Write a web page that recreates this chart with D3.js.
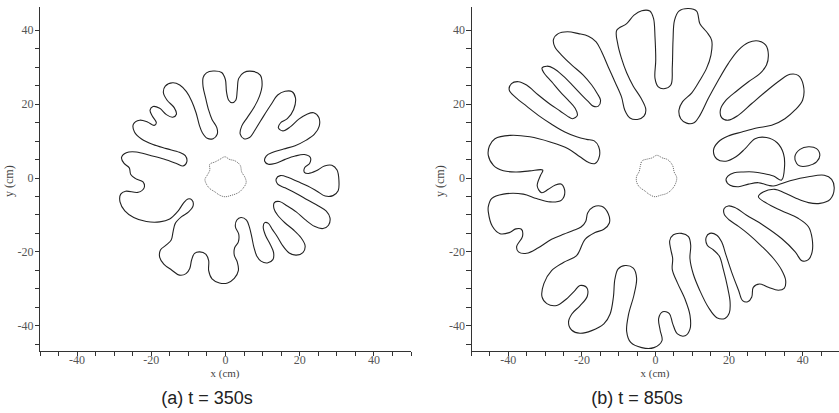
<!DOCTYPE html>
<html>
<head>
<meta charset="utf-8">
<script src="https://cdn.jsdelivr.net/npm/d3@7"></script>
<style>
  body { margin: 0; background: #fff; }
  svg { display: block; }
  .axis path, .axis line { stroke: #333; shape-rendering: crispEdges; }
</style>
</head>
<body>
<div id="chart"></div>
<script>
// Tick values (cm)
const xTicks = [-50, -45, -40, -35, -30, -25, -20, -15, -10, -5, 0, 5, 10, 15, 20, 25, 30, 35, 40, 45, 50];
const yTicks = [-45, -40, -35, -30, -25, -20, -15, -10, -5, 0, 5, 10, 15, 20, 25, 30, 35, 40];
const labelTicks = [-40, -20, 0, 20, 40];

// (a) t = 350s : finger outline, [x, y] in cm
const frontA = [
  [-5.9,27.0],[-5.0,28.3],[-3.2,28.8],[-0.9,28.4],[0.1,26.5],[0.4,23.2],[1.0,20.9],[1.9,20.2],[2.9,20.9],[3.3,23.6],
  [3.7,26.8],[5.1,28.4],[7.5,28.7],[9.5,27.7],[10.0,25.0],[9.3,22.0],[7.8,18.9],[6.0,16.2],[4.5,13.9],[4.1,11.7],
  [5.1,10.5],[6.6,10.8],[8.3,13.2],[10.4,16.6],[12.6,20.0],[14.2,22.3],[16.2,23.3],[18.1,23.2],[19.0,21.5],[18.5,18.4],
  [16.8,15.9],[15.0,14.8],[14.4,13.4],[15.6,12.6],[17.6,13.7],[19.8,15.7],[22.1,17.1],[23.9,17.5],[25.3,16.2],[25.4,13.9],
  [24.1,11.7],[21.9,10.1],[18.9,8.6],[15.8,7.7],[12.9,6.8],[11.1,5.8],[10.7,4.4],[11.7,3.6],[13.5,3.8],[16.2,4.9],
  [18.9,5.8],[21.4,6.2],[23.0,5.4],[22.8,3.8],[21.5,2.7],[21.4,1.4],[22.5,1.1],[24.6,1.8],[26.8,3.1],[28.8,3.3],
  [30.2,2.0],[30.7,-0.7],[30.5,-3.6],[29.1,-4.9],[27.0,-5.0],[24.8,-3.7],[22.3,-2.3],[19.6,-1.1],[17.1,0.0],[14.9,0.5],
  [13.8,-0.4],[14.2,-1.8],[16.2,-2.8],[19.2,-4.3],[22.3,-6.1],[25.2,-7.7],[27.3,-9.1],[28.3,-10.9],[27.9,-12.9],[26.4,-13.8],
  [24.1,-13.2],[21.6,-11.4],[19.2,-9.3],[16.8,-7.7],[14.7,-6.5],[13.3,-6.8],[13.2,-8.4],[14.2,-10.2],[16.2,-12.3],[18.5,-14.2],
  [20.5,-16.3],[21.6,-18.5],[21.0,-20.3],[19.2,-21.0],[17.3,-20.4],[15.6,-18.5],[14.1,-16.0],[12.8,-14.1],[11.7,-12.4],[10.7,-12.2],
  [10.3,-13.3],[10.9,-15.6],[12.2,-18.1],[13.1,-20.3],[12.9,-22.2],[11.4,-23.1],[9.7,-22.6],[8.6,-21.3],[7.8,-18.9],[7.2,-16.0],
  [6.6,-13.5],[5.8,-11.5],[4.3,-10.8],[3.2,-11.5],[2.8,-13.3],[3.7,-15.3],[3.6,-17.4],[2.6,-19.0],[2.5,-21.0],[3.3,-22.8],
  [3.6,-25.2],[2.5,-27.3],[0.7,-28.5],[-1.5,-28.5],[-3.5,-27.4],[-4.4,-25.2],[-4.4,-22.5],[-5.2,-20.7],[-6.8,-20.1],[-8.2,-20.5],
  [-9.0,-22.3],[-9.5,-24.6],[-10.5,-26.0],[-12.3,-26.4],[-14.4,-25.0],[-16.5,-23.4],[-17.6,-21.6],[-17.4,-19.6],[-15.9,-18.3],[-14.5,-16.9],
  [-14.0,-14.7],[-13.4,-12.4],[-11.7,-10.6],[-9.8,-9.3],[-8.6,-7.7],[-8.9,-6.1],[-10.0,-5.8],[-11.1,-6.8],[-12.6,-9.0],[-14.9,-11.2],
  [-17.6,-12.0],[-21.2,-11.9],[-24.6,-10.8],[-27.0,-9.0],[-28.3,-6.6],[-28.1,-4.5],[-26.8,-3.7],[-23.4,-4.0],[-21.8,-2.8],[-22.1,-1.2],
  [-24.1,-0.3],[-25.4,0.8],[-25.8,2.6],[-27.2,3.8],[-27.9,5.4],[-26.6,6.7],[-23.9,6.9],[-20.3,6.0],[-16.5,5.0],[-13.1,3.8],
  [-11.3,3.1],[-10.3,4.2],[-10.7,5.9],[-12.3,6.8],[-15.8,7.8],[-19.4,8.9],[-22.5,10.4],[-24.4,12.3],[-24.7,14.4],[-23.0,15.5],
  [-20.9,15.0],[-19.1,14.1],[-18.5,14.8],[-19.6,16.6],[-20.2,18.2],[-19.4,19.2],[-17.6,18.7],[-15.8,17.0],[-14.1,16.3],[-13.1,17.1],
  [-13.7,18.9],[-15.6,20.9],[-16.6,22.9],[-16.1,24.7],[-14.1,25.6],[-12.2,25.0],[-10.4,23.2],[-9.0,20.7],[-7.8,17.5],[-6.9,14.1],
  [-6.1,12.1],[-4.8,10.6],[-3.2,10.5],[-2.1,11.7],[-2.2,13.5],[-3.5,15.7],[-4.4,18.2],[-5.2,21.4],[-5.9,24.5]
];
const initA = [
  [0,5.6],[1.2,4.9],[2.7,4.5],[4.1,3.3],[4.5,1.5],[5.4,0],[5.7,-1.4],[4.8,-3.0],[3.6,-4.1],[1.8,-4.8],[0,-5.2],
  [-1.4,-4.8],[-2.7,-3.9],[-4.1,-3.0],[-5.0,-1.8],[-5.4,-0.5],[-4.8,0.6],[-4.1,2.0],[-4.1,3.6],[-2.7,4.2],[-1.4,4.9]
];

// (b) t = 850s
const frontB = [
  [-10.4,39.8],[-7.7,41.6],[-5.7,43.9],[-3.6,45.1],[-1.4,45.0],[-0.4,43.0],[0,38.0],[0.2,31.7],[0,26.8],[0.9,24.5],
  [2.4,24.0],[4.3,25.0],[4.7,29.9],[4.9,37.1],[5.3,42.5],[6.5,45.0],[9.1,45.7],[11.3,45.0],[12.2,41.6],[14.0,39.4],
  [15.4,37.1],[15.2,33.1],[14.0,29.5],[12.2,26.3],[10.0,22.9],[7.5,20.5],[6.5,18.2],[7.0,15.9],[8.6,14.7],[10.6,14.8],
  [12.2,16.8],[14.5,21.4],[17.2,26.3],[19.9,30.8],[22.6,34.4],[25.4,36.5],[28.1,36.9],[30.1,35.8],[30.8,33.3],[30.3,30.4],
  [28.5,28.1],[25.4,25.9],[22.2,23.4],[19.3,20.9],[17.8,18.4],[18.1,16.2],[19.9,15.5],[22.6,16.8],[26.3,20.0],[30.3,23.4],
  [34.0,26.3],[36.7,27.9],[38.9,27.6],[40.3,25.0],[40.1,20.9],[38.0,18.2],[35.3,15.9],[31.7,14.1],[27.6,13.4],[23.6,12.3],
  [19.9,11.2],[17.2,9.6],[15.9,7.4],[16.8,5.0],[19.3,4.4],[22.0,5.6],[24.5,7.8],[27.2,10.5],[30.3,10.8],[33.2,9.4],
  [34.9,6.5],[35.2,2.9],[34.4,-0.7],
  [32.2,0.4],[29.4,1.1],[26.7,1.5],[24.0,1.5],[21.5,1.3],[19.8,0.4],[19.3,-0.7],[20.4,-2.1],[22.7,-2.5],[25.4,-1.8],
  [28.1,-1.4],[30.8,-2.1],[32.2,-2.3],[36.7,-0.9],[41.7,0.2],[46.0,0.6],[48.0,-0.5],[48.7,-3.0],[47.6,-5.9],[44.8,-7.0],
  [41.7,-6.8],[38.3,-5.6],[35.1,-4.1],[32.6,-3.2],[29.4,-3.9],[28.1,-5.2],[30.4,-7.0],[34.4,-9.0],[39.0,-11.1],[41.7,-13.3],
  [42.7,-16.5],[42.7,-20.1],[41.7,-22.2],[39.9,-22.5],[38.1,-20.1],[34.4,-16.5],[29.4,-12.9],[24.9,-10.2],[21.7,-8.1],[19.9,-7.7],
  [18.8,-8.4],[18.8,-9.9],[20.2,-11.5],[22.7,-13.2],[25.4,-15.3],[29.0,-18.6],[32.2,-21.9],[34.4,-25.0],[35.5,-27.8],[35.1,-30.0],
  [33.5,-30.5],[30.8,-29.7],[28.4,-28.8],[26.7,-29.7],[26.3,-32.3],[25.2,-33.6],[23.8,-33.3],[22.7,-30.5],[20.8,-25.5],[19.3,-21.0],
  [18.1,-17.4],[16.8,-15.6],[14.9,-15.1],[13.9,-16.2],[14.2,-18.3],[15.9,-19.6],[17.5,-21.3],[18.6,-25.0],[19.7,-29.6],[20.4,-33.6],
  [20.2,-36.6],[19.0,-38.1],[16.8,-37.9],[14.5,-35.1],[12.2,-30.6],[10.4,-26.1],[9.5,-21.9],[9.7,-18.3],[9.1,-16.0],[7.2,-15.1],
  [5.0,-15.5],[4.0,-17.1],[4.3,-19.5],[4.8,-21.9],[4.7,-24.9],[6.1,-28.5],[8.2,-33.0],[9.5,-37.2],[9.5,-41.0],[8.2,-42.8],
  [6.1,-42.3],[4.8,-39.5],[3.9,-36.8],[2.1,-36.3],[1.0,-38.1],[1.4,-41.3],[1.9,-44.1],[-0.3,-46.0],[-3.6,-46.0],[-6.6,-44.6],
  [-7.7,-41.6],[-7.2,-37.1],[-5.7,-31.7],[-5.0,-27.2],[-5.9,-24.5],[-8.1,-23.8],[-10.0,-24.7],[-10.9,-27.5],[-11.3,-32.3],[-12.2,-36.9],
  [-13.9,-39.6],[-17.2,-41.4],[-20.4,-42.1],[-22.6,-41.3],[-23.5,-39.2],[-22.6,-36.9],[-20.4,-34.7],[-18.4,-32.1],[-18.6,-29.7],[-20.4,-29.2],
  [-21.9,-30.7],[-24.5,-33.2],[-26.7,-34.6],[-29.4,-34.1],[-30.7,-32.3],[-30.2,-28.7],[-28.1,-25.2],[-24.9,-23.0],[-21.3,-21.1],[-19.0,-16.7],
  [-16.3,-14.9],[-13.9,-14.0],[-12.4,-12.3],[-12.7,-9.8],[-14.5,-7.8],[-16.8,-8.0],[-18.3,-9.6],[-18.8,-11.8],[-20.1,-13.4],[-22.4,-14.4],
  [-24.7,-15.3],[-28.1,-16.7],[-31.7,-19.0],[-34.9,-20.5],[-37.1,-20.1],[-37.6,-18.7],[-36.0,-15.9],[-36.3,-14.0],[-37.8,-13.9],[-39.6,-14.9],
  [-42.1,-15.2],[-44.2,-13.2],[-45.3,-9.3],[-45.3,-7.9],[-44.4,-5.7],[-41.2,-4.5],[-35.8,-4.5],[-32.2,-5.7],[-28.5,-6.6],[-25.4,-6.1],
  [-24.5,-3.9],[-25.4,-1.8],[-27.2,-2.1],[-29.0,-3.2],[-30.8,-4.1],[-32.0,-2.3],[-31.1,0.6],[-30.5,2.0],[-34.0,1.8],[-37.6,1.5],
  [-41.2,1.8],[-43.9,3.3],[-45.3,6.0],[-45.0,8.5],[-43.5,10.5],[-39.4,11.4],[-34.0,11.0],[-28.5,9.6],[-23.6,7.8],[-20.4,5.6],
  [-18.1,4.1],[-16.3,3.8],[-15.1,5.8],[-15.3,8.3],[-16.5,9.9],[-18.6,10.3],[-21.3,11.0],[-24.5,12.3],[-28.1,14.4],[-31.7,16.8],
  [-34.9,19.3],[-37.8,21.6],[-39.6,23.6],[-39.0,25.4],[-37.1,25.9],[-34.9,25.0],[-31.7,22.3],[-28.5,19.8],[-25.8,18.0],[-23.8,16.6],
  [-22.4,15.9],[-21.1,16.8],[-21.7,18.7],[-23.6,20.9],[-25.8,23.2],[-28.1,25.9],[-30.2,28.3],[-30.7,29.6],[-29.4,30.1],[-27.5,29.5],
  [-24.9,27.4],[-22.2,24.7],[-19.9,22.3],[-18.1,20.5],[-16.8,19.3],[-15.4,19.3],[-14.8,20.9],[-15.7,22.7],[-17.2,25.0],[-19.5,27.7],
  [-22.6,30.4],[-25.4,33.1],[-27.2,35.3],[-27.6,37.3],[-26.3,38.9],[-23.8,39.4],[-20.8,38.9],[-18.1,38.2],[-16.0,36.7],[-14.5,34.0],
  [-12.7,29.9],[-10.9,25.9],[-9.1,21.8],[-8.2,18.2],[-6.8,16.1],[-4.8,15.7],[-3.0,16.6],[-2.5,18.4],[-3.9,21.6],[-5.9,24.7],
  [-7.7,28.3],[-9.1,32.2],[-10.1,36.0]
];
const islandB = [
  [38.5,3.8],[38,5.6],[39.4,7.6],[41.7,8.3],[43.9,7.8],[44.8,6.0],[43.9,4.2],[41.7,3.2],[39.4,3.1]
];
const initB = [
  [0.5,6.0],[2,5.3],[3.5,4.8],[4.8,3.2],[5.2,1.5],[5.9,0],[5.6,-1.6],[4.6,-3.2],[3.2,-4.3],[1.5,-4.8],[0,-5.2],
  [-1.5,-4.6],[-2.8,-3.6],[-4.2,-2.6],[-5,-1.2],[-5,0.3],[-4.3,1.6],[-4,3],[-3.5,4.5],[-2,5],[-0.8,5.3]
];

const width = 839, height = 413;
const serif = "'Liberation Serif', 'Times New Roman', serif";
const svg = d3.select("#chart").append("svg")
  .attr("width", width)
  .attr("height", height);

const panels = [
  { x0: 39.5, x1: 410.5, caption: "(a) t = 350s", fronts: [frontA], init: initA },
  { x0: 471, x1: 839, caption: "(b) t = 850s", fronts: [frontB, islandB], init: initB }
];

// plain hyphen for negative tick labels, blank for minor ticks
const tickText = (d) => (labelTicks.includes(d) ? String(d) : "");

panels.forEach((p) => {
  const x = d3.scaleLinear().domain([-50, 50]).range([p.x0, p.x1]);
  const y = d3.scaleLinear().domain([-47.1, 46.1]).range([351.7, 7]);
  const g = svg.append("g");

  const line = d3.line()
    .x((d) => x(d[0]))
    .y((d) => y(d[1]))
    .curve(d3.curveCatmullRomClosed.alpha(0.5));

  // x axis
  const xAxis = d3.axisBottom(x)
    .tickValues(xTicks)
    .tickSize(4)
    .tickPadding(0)
    .tickFormat(tickText);
  g.append("g")
    .attr("class", "axis")
    .attr("transform", `translate(0,${y(-47.1)})`)
    .call(xAxis)
    .call((s) => s.select(".domain").attr("d", `M${p.x0},0H${p.x1}`))
    .call((s) => s.selectAll("text").attr("font-family", serif).attr("font-size", 12).attr("fill", "#555"));

  // y axis
  const yAxis = d3.axisLeft(y)
    .tickValues(yTicks)
    .tickSize(5)
    .tickPadding(1)
    .tickFormat(tickText);
  g.append("g")
    .attr("class", "axis")
    .attr("transform", `translate(${p.x0},0)`)
    .call(yAxis)
    .call((s) => s.select(".domain").attr("d", `M0,${y(46.1)}V${y(-47.1)}`))
    .call((s) => s.selectAll("text").attr("font-family", serif).attr("font-size", 12).attr("fill", "#555"));

  // axis titles
  g.append("text")
    .attr("x", x(0))
    .attr("y", 377)
    .attr("text-anchor", "middle")
    .attr("font-family", serif)
    .attr("font-size", 11)
    .attr("fill", "#444")
    .text("x (cm)");

  g.append("text")
    .attr("transform", `translate(${p.x0 - 27},${y(-1)}) rotate(-90)`)
    .attr("text-anchor", "middle")
    .attr("font-family", serif)
    .attr("font-size", 12)
    .attr("fill", "#444")
    .text("y (cm)");

  // caption
  g.append("text")
    .attr("x", (p.x0 + p.x1) / 2 - 18)
    .attr("y", 404)
    .attr("text-anchor", "middle")
    .attr("font-family", "'Liberation Sans', Arial, sans-serif")
    .attr("font-size", 18)
    .attr("fill", "#222")
    .text(p.caption);

  // initial interface (dotted)
  g.append("path")
    .datum(p.init)
    .attr("d", line)
    .attr("fill", "none")
    .attr("stroke", "#666")
    .attr("stroke-width", 1)
    .attr("stroke-dasharray", "1,1");

  // fronts
  p.fronts.forEach((f) => {
    g.append("path")
      .datum(f)
      .attr("d", line)
      .attr("fill", "none")
      .attr("stroke", "#222")
      .attr("stroke-width", 1.1);
  });
});
</script>
</body>
</html>
